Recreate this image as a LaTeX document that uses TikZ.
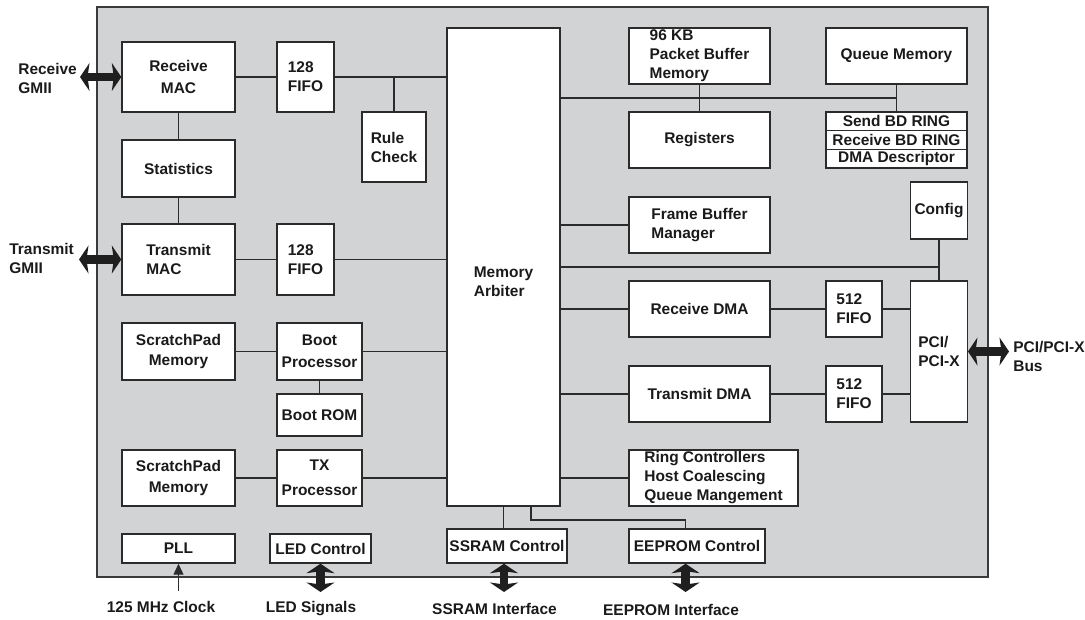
\documentclass[tikz,border=0pt]{standalone}
\usepackage{fontspec}
\setmainfont{Liberation Sans}
\usetikzlibrary{arrows.meta,calc,positioning}
\definecolor{nicink}{HTML}{1A1A1A}
\definecolor{nicline}{HTML}{2B2B2B}
\definecolor{nicchip}{HTML}{D2D3D5}
\definecolor{nicframe}{HTML}{3A3A3A}
\tikzset{
  every picture/.style={font=\fontsize{8.8}{10.8}\selectfont\bfseries,text=nicink},
  block/.style={rectangle,draw=nicline,fill=white,line width=0.8pt,
    inner sep=0pt,align=center},
  blockl/.style={block,align=left},
  wire/.style={draw=nicline,line width=0.7pt},
  port/.style={draw=black!88,line width=5pt,
    {Stealth[length=1.9mm,width=5.6mm,inset=0.4mm]}-{Stealth[length=1.9mm,width=5.6mm,inset=0.4mm]}},
  clockin/.style={draw=nicline,line width=0.6pt,-{Triangle[length=2.2mm,width=2mm]}},
  pin label/.style={inner sep=0pt,align=left},
}
\begin{document}
\begin{tikzpicture}[x=0.02cm,y=-0.02cm]
  \path[use as bounding box] (0,0) rectangle (1085,619);
  % chip outline
  \draw[draw=nicframe,fill=nicchip,line width=1pt] (97,7) rectangle (988,577);
  % MAC column
  \node[block,minimum width=2.26cm,minimum height=1.40cm] (rxmac) at (178.5,77) {Receive\\[2.2pt]MAC};
  \node[blockl,minimum width=1.14cm,minimum height=1.40cm] (rxfifo) at (305.5,77) {128\\FIFO};
  \node[blockl,minimum width=1.28cm,minimum height=1.40cm] (rule) at (394,147) {Rule\\Check};
  \node[block,minimum width=2.26cm,minimum height=1.14cm] (stats) at (178.5,168.5) {Statistics};
  \node[blockl,minimum width=2.26cm,minimum height=1.42cm] (txmac) at (178.5,259.5) {Transmit\\MAC};
  \node[blockl,minimum width=1.14cm,minimum height=1.42cm] (txfifo) at (305.5,259.5) {128\\FIFO};
  % processors
  \node[block,minimum width=2.26cm,minimum height=1.14cm] (scr1) at (178.5,351.5) {ScratchPad\\[0.6pt]Memory};
  \node[block,minimum width=1.70cm,minimum height=1.14cm] (bootcpu) at (319.5,351.5) {Boot\\[1.7pt]Processor};
  \node[block,minimum width=1.70cm,minimum height=0.84cm] (bootrom) at (319.5,415) {Boot ROM};
  \node[block,minimum width=2.26cm,minimum height=1.12cm] (scr2) at (178.5,478) {ScratchPad\\[0.6pt]Memory};
  \node[block,minimum width=1.70cm,minimum height=1.12cm] (txcpu) at (319.5,478) {TX\\[3.4pt]Processor};
  \node[block,minimum width=2.26cm,minimum height=0.58cm] (pll) at (178.5,548.5) {PLL};
  \node[block,minimum width=2.02cm,minimum height=0.58cm] (led) at (320.5,548.5) {LED Control};
  % arbiter and its clients
  \node[block,minimum width=2.26cm,minimum height=9.56cm,
    label={[pin label,yshift=-0.3cm]center:Memory\\Arbiter}] (arb) at (503.5,267) {};
  \node[block,minimum width=2.40cm,minimum height=0.68cm] (ssram) at (507,546) {SSRAM Control};
  \node[block,minimum width=2.72cm,minimum height=0.68cm] (eeprom) at (697,546) {EEPROM Control};
  \node[blockl,minimum width=2.82cm,minimum height=1.12cm] (pktbuf) at (699.5,56) {96 KB\\Packet Buffer\\Memory};
  \node[block,minimum width=2.82cm,minimum height=1.12cm] (regs) at (699.5,140) {Registers};
  \node[blockl,minimum width=2.82cm,minimum height=1.12cm] (fbm) at (699.5,225) {Frame Buffer\\Manager};
  \node[block,minimum width=2.82cm,minimum height=1.12cm] (rxdma) at (699.5,309) {Receive DMA};
  \node[block,minimum width=2.82cm,minimum height=1.12cm] (txdma) at (699.5,394) {Transmit DMA};
  \node[blockl,minimum width=3.38cm,minimum height=1.12cm] (ring) at (713.5,478) {Ring Controllers\\Host Coalescing\\Queue Mangement};
  % host side
  \node[block,minimum width=2.82cm,minimum height=1.12cm] (qmem) at (896.5,56) {Queue Memory};
  \foreach \row/\txt [count=\i] in {sendbd/Send BD RING,recvbd/Receive BD RING,dmadesc/DMA Descriptor}
    \node[block,minimum width=2.82cm,minimum height=0.373cm] (\row) at (896.5,{102.7+18.67*\i}) {\txt};
  \node[block,minimum width=1.13cm,minimum height=1.14cm] (cfg) at (939,210.5) {Config};
  \node[blockl,minimum width=1.12cm,minimum height=1.12cm] (rxfifo2) at (854,309) {512\\FIFO};
  \node[blockl,minimum width=1.12cm,minimum height=1.12cm] (txfifo2) at (854,394) {512\\FIFO};
  \node[blockl,minimum width=1.13cm,minimum height=2.82cm] (pci) at (939,351.5) {PCI/\\PCI-X};
  % wiring, left half
  \draw[wire] (rxmac) -- (rxfifo) -- (rxfifo.east -| arb.west);
  \draw[wire] (rule.north) -- (rule.north |- rxfifo.east);
  \draw[wire] (rxmac) -- (stats);
  \draw[wire] (stats) -- (txmac);
  \draw[wire] (txmac) -- (txfifo) -- (txfifo.east -| arb.west);
  \draw[wire] (scr1) -- (bootcpu) -- (bootcpu.east -| arb.west);
  \draw[wire] (bootcpu) -- (bootrom);
  \draw[wire] (scr2) -- (txcpu) -- (txcpu.east -| arb.west);
  % wiring, right half
  \coordinate (membus) at ($(pktbuf.south)!.5!(regs.north)$);
  \draw[wire] (membus -| arb.east) -- (membus -| qmem.south);
  \draw[wire] (pktbuf) -- (regs);
  \draw[wire] (qmem) -- (sendbd);
  \draw[wire] (arb.east |- fbm.west) -- (fbm);
  \coordinate (pcibus) at ($(fbm.south)!.5!(rxdma.north)$);
  \draw[wire] (pcibus -| arb.east) -- (pcibus -| cfg.south);
  \draw[wire] (cfg) -- (pci);
  \draw[wire] (arb.east |- rxdma.west) -- (rxdma) -- (rxfifo2) -- (rxfifo2.east -| pci.west);
  \draw[wire] (arb.east |- txdma.west) -- (txdma) -- (txfifo2) -- (txfifo2.east -| pci.west);
  \draw[wire] (arb.east |- ring.west) -- (ring);
  \draw[wire] (arb.south) -- (arb.south |- ssram.north);
  \coordinate (eetap) at (531,520);
  \draw[wire] (eetap |- arb.south) -- (eetap) -| ([xshift=-0.228cm]eeprom.north);
  % external ports
  \coordinate (rxgmii) at (80,77);
  \coordinate (txgmii) at (79,259.5);
  \coordinate (pcix) at (1009,351.5);
  \coordinate (ledpins) at (320.5,592);
  \coordinate (srampins) at (504,592);
  \coordinate (eepins) at (685.6,592);
  \coordinate (clkin) at (178.5,591);
  \draw[port] (rxgmii) -- (rxmac.west);
  \draw[port] (txgmii) -- (txmac.west);
  \draw[port] (pci.east) -- (pcix);
  \draw[port] (led.south) -- (ledpins);
  \draw[port] (srampins |- ssram.south) -- (srampins);
  \draw[port] (eepins |- eeprom.south) -- (eepins);
  \draw[clockin] (clkin) -- (pll.south);
  % pin labels
  \node[pin label,anchor=west] (rxgmiilbl) at (18,78) {Receive\\GMII};
  \node[pin label,anchor=west] (txgmiilbl) at (9,258.5) {Transmit\\GMII};
  \node[pin label,anchor=west] (pcilbl) at (1013,356.5) {PCI/PCI-X\\Bus};
  \node[pin label,anchor=base] (clklbl) at (161,612) {125 MHz Clock};
  \node[pin label,anchor=base] (ledlbl) at (311,612.5) {LED Signals};
  \node[pin label,anchor=base] (sramlbl) at (494.5,614) {SSRAM Interface};
  \node[pin label,anchor=base] (eelbl) at (671,615) {EEPROM Interface};
\end{tikzpicture}
\end{document}
